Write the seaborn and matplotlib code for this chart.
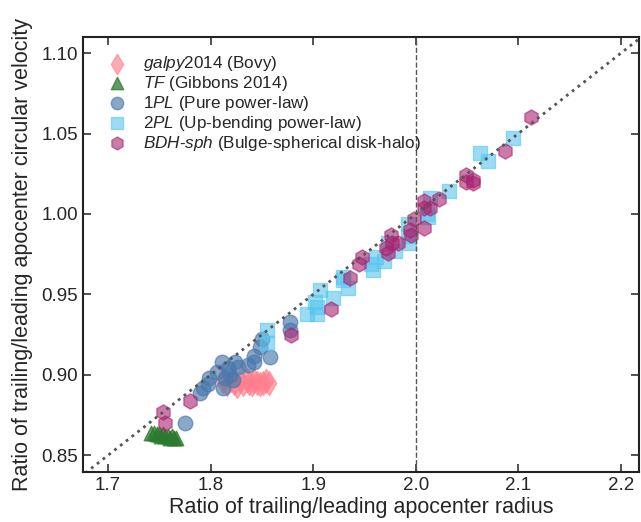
import numpy as np
import pandas as pd
import matplotlib
matplotlib.use("Agg")
import matplotlib.pyplot as plt
import seaborn as sns

# galpy2014 (Bovy) -- pink diamonds
galpy_x = [1.812, 1.816, 1.820, 1.823, 1.826, 1.829, 1.832, 1.835, 1.837,
           1.840, 1.842, 1.845, 1.848, 1.851, 1.854, 1.857]
galpy_y = [0.896, 0.894, 0.897, 0.895, 0.893, 0.896, 0.894, 0.897, 0.895,
           0.894, 0.896, 0.895, 0.894, 0.895, 0.896, 0.895]

# TF (Gibbons 2014) -- green triangles
tf_x = [1.742, 1.745, 1.748, 1.750, 1.752, 1.754, 1.756, 1.758, 1.760,
        1.762, 1.764, 1.766]
tf_y = [0.864, 0.864, 0.863, 0.863, 0.862, 0.863, 0.862, 0.862, 0.861,
        0.862, 0.861, 0.861]

# 1PL (pure power-law) -- blue circles
pl1_x = [1.877, 1.877, 1.858, 1.850, 1.848, 1.842, 1.842, 1.836, 1.827,
         1.824, 1.811, 1.817, 1.819, 1.814, 1.822, 1.812, 1.806, 1.798,
         1.797, 1.793, 1.790, 1.775]
pl1_y = [0.933, 0.928, 0.911, 0.922, 0.917, 0.912, 0.908, 0.906, 0.905,
         0.908, 0.908, 0.904, 0.900, 0.898, 0.897, 0.892, 0.902, 0.898,
         0.894, 0.892, 0.889, 0.870]

# 2PL (up-bending power-law) -- light blue squares
pl2_x = [2.095, 2.063, 2.070, 2.032, 2.014, 2.012, 2.011, 1.992, 1.992,
         1.993, 1.980, 1.973, 1.969, 1.961, 1.956, 1.958, 1.929, 1.934,
         1.929, 1.919, 1.907, 1.904, 1.894, 1.904, 1.902, 1.855, 1.855]
pl2_y = [1.047, 1.038, 1.033, 1.014, 1.010, 0.998, 1.000, 0.994, 0.986,
         0.982, 0.977, 0.982, 0.971, 0.973, 0.969, 0.965, 0.961, 0.954,
         0.959, 0.948, 0.953, 0.942, 0.938, 0.938, 0.945, 0.928, 0.920]

# BDH-sph (bulge-spherical disk-halo) -- purple hexagons
bdh_x = [2.112, 2.087, 2.049, 2.056, 2.056, 2.049, 2.023, 2.008, 2.008,
         2.014, 2.008, 1.998, 1.994, 1.995, 1.976, 1.977, 1.983, 1.971,
         1.973, 1.948, 1.945, 1.936, 1.917, 1.878, 1.780, 1.754, 1.756]
bdh_y = [1.060, 1.039, 1.024, 1.021, 1.019, 1.020, 1.009, 1.008, 1.004,
         1.004, 0.991, 0.997, 0.990, 0.987, 0.987, 0.982, 0.982, 0.979,
         0.976, 0.973, 0.969, 0.960, 0.941, 0.925, 0.884, 0.877, 0.870]

xticks = [1.7, 1.8, 1.9, 2.0, 2.1, 2.2]
yticks = [0.85, 0.90, 0.95, 1.00, 1.05, 1.10]

sns.set_style("ticks")
plt.rcParams["font.family"] = ["Liberation Sans", "DejaVu Sans"]
plt.rcParams["mathtext.fontset"] = "custom"
plt.rcParams["mathtext.it"] = "Liberation Sans:italic"
plt.rcParams["mathtext.rm"] = "Liberation Sans"

fig = plt.figure(figsize=(6.41, 5.22), dpi=100)
ax = fig.add_axes([0.1295, 0.0958, 0.8674, 0.8333])

series = [
    (galpy_x, galpy_y, "d", "#ff7f8e", 150, 0.65, r"$galpy$2014 (Bovy)"),
    (tf_x, tf_y, "^", "#2b7a2f", 110, 0.75, r"$TF$ (Gibbons 2014)"),
    (pl1_x, pl1_y, "o", "#4a78ab", 110, 0.65, r"1$PL$ (Pure power-law)"),
    (pl2_x, pl2_y, "s", "#58c6ee", 110, 0.6, r"2$PL$ (Up-bending power-law)"),
    (bdh_x, bdh_y, "h", "#a8236f", 120, 0.6,
     r"$BDH$-$sph$ (Bulge-spherical disk-halo)"),
]

for xs, ys, mk, col, size, alpha, lab in series:
    df = pd.DataFrame({"x": xs, "y": ys})
    sns.scatterplot(data=df, x="x", y="y", marker=mk, color=col, s=size,
                    alpha=alpha, edgecolor=col, linewidth=1, label=lab, ax=ax)

# one-to-one reference (v ratio = r ratio / 2) and the 2.0 marker
line_x = np.array([1.6, 2.3])
ax.plot(line_x, line_x / 2, ls=":", lw=2, color="#555555", zorder=1)
ax.axvline(2.0, ls="--", lw=1, color="#555555", zorder=1)

ax.set_xlim(1.6756, 2.2176)
ax.set_ylim(0.8396, 1.110)
ax.set_xticks(xticks)
ax.set_yticks(yticks)
ax.set_xticklabels([f"{t:.1f}" for t in xticks])
ax.set_yticklabels([f"{t:.2f}" for t in yticks])
ax.tick_params(direction="in", top=True, right=True, length=6, width=1.2,
               labelsize=13.5, color="#333333")
for sp in ax.spines.values():
    sp.set_linewidth(1.5)
    sp.set_color("#222222")

ax.set_xlabel("Ratio of trailing/leading apocenter radius", fontsize=15.5,
              labelpad=2)
ax.set_ylabel("Ratio of trailing/leading apocenter circular velocity",
              fontsize=15.5, labelpad=6)

ax.legend(loc="upper left", frameon=False, fontsize=12.3, labelspacing=0.05,
          handletextpad=0.5, borderaxespad=0.6, markerscale=0.85,
          bbox_to_anchor=(0.0, 1.0))

fig.savefig("out.png", dpi=100)
